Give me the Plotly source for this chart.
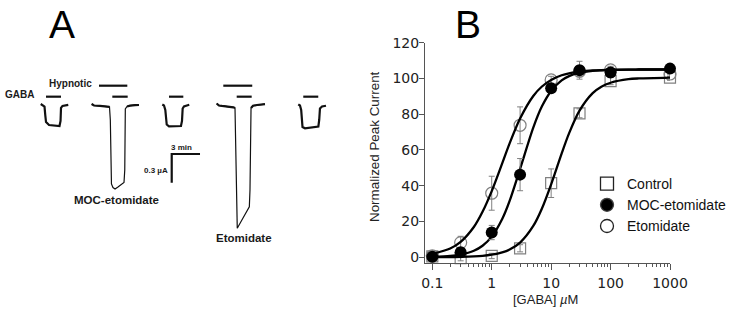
import plotly.graph_objects as go

W, H = 729, 315

# ---------------- Panel B data ----------------
conc = [0.1, 0.3, 1, 3, 10, 30, 100, 1000]
control_mean = [0.5, -0.5, 0.7, 5.0, 41.4, 80.5, 98.5, 100.5]
control_err = [1.5, 1.5, 1.5, 2.0, 8.0, 2.5, 2.0, 1.5]
moc_mean = [0.3, 2.8, 13.8, 46.2, 94.5, 104.6, 103.3, 105.5]
moc_err = [1.5, 1.5, 4.0, 9.0, 2.0, 5.0, 2.5, 1.5]
eto_mean = [0.8, 8.2, 35.8, 73.8, 99.2, 104.0, 104.8, 102.5]
eto_err = [1.5, 3.5, 9.5, 10.3, 2.0, 3.0, 2.0, 1.5]

# fitted curves
fit_conc = [0.1, 0.2, 0.3, 0.5, 0.7, 1, 1.5, 2, 3, 5, 7, 10, 15, 20, 30, 50, 70, 100, 200, 300, 1000]
control_fit = [0.03, 0.09, 0.18, 0.42, 0.74, 1.4, 2.7, 4.3, 8.2, 17.5, 27.3, 40.8, 58.0, 69.3, 82.0,
               91.8, 95.4, 97.6, 99.6, 100.0, 100.5]
moc_fit = [0.2, 0.7, 1.5, 3.6, 6.4, 11.5, 21.4, 31.5, 49.4, 72.5, 84.4, 93.0, 98.9, 101.3, 103.2,
           104.3, 104.6, 104.8, 104.95, 105.0, 105.0]
eto_fit = [1.8, 4.9, 8.6, 16.9, 25.4, 37.0, 52.5, 63.7, 77.6, 90.2, 95.5, 99.2, 101.8, 102.9, 103.8,
           104.5, 104.7, 104.8, 104.9, 105.0, 105.0]

x_ticks = [0.1, 1, 10, 100, 1000]
x_ticktext = ["0.1", "1", "10", "100", "1000"]
y_ticks = [0, 20, 40, 60, 80, 100, 120]
minor_ticks = [k * 10.0 ** e for e in range(-1, 3) for k in range(2, 10)]

# ---------------- Panel A data (time in min, current in µA) ----------------
sweep1_t = [4.32, 4.51, 4.72, 4.80, 4.88, 5.20, 5.83, 6.31, 6.42, 6.47, 6.63, 6.89, 7.24]
sweep1_i = [0.010, -0.005, -0.016, -0.105, -0.178, -0.209, -0.217, -0.220, -0.167, -0.031, -0.010, -0.003, 0.002]

sweep2_t = [9.72, 9.97, 10.60, 11.24, 11.61, 11.70, 11.75, 11.82, 11.98, 12.20, 12.51, 12.83, 13.15,
            13.23, 13.29, 13.47, 13.79, 14.32, 14.74]
sweep2_i = [0.010, -0.005, -0.010, -0.013, -0.019, -0.157, -0.575, -0.826, -0.863, -0.879, -0.858, -0.837,
            -0.811, -0.680, -0.042, -0.016, -0.007, -0.002, 0.0]

sweep3_t = [17.21, 17.39, 17.53, 17.60, 17.68, 17.92, 18.56, 19.19, 19.30, 19.37, 19.51, 19.78, 20.07]
sweep3_i = [0.005, -0.005, -0.052, -0.157, -0.204, -0.223, -0.225, -0.220, -0.167, -0.037, -0.014, -0.005, 0.002]

sweep4_t = [22.98, 23.22, 23.54, 24.18, 24.74, 24.92, 24.98, 25.05, 25.16, 25.77, 26.44, 26.51, 26.56,
            26.62, 26.83, 27.25, 28.10]
sweep4_i = [0.016, -0.005, -0.010, -0.016, -0.024, -0.031, -0.366, -0.994, -1.290, -1.182, -1.064, -0.889,
            -0.262, -0.031, -0.008, 0.0, 0.010]

sweep5_t = [31.63, 31.81, 31.94, 32.00, 32.08, 32.34, 33.09, 33.76, 33.85, 33.93, 34.15, 34.57]
sweep5_i = [0.007, -0.005, -0.052, -0.178, -0.230, -0.244, -0.235, -0.225, -0.157, -0.037, -0.016, -0.008]

gaba_bars = [(4.88, 6.47), (11.91, 13.54), (17.92, 19.44), (25.10, 26.69), (32.16, 33.75)]
gaba_level = 0.087
hyp_bars = [(10.50, 13.50), (23.68, 26.75)]
hyp_level = 0.202

scale_t0, scale_i0 = 18.21, -0.5125
scale_dt, scale_di = 3.0, 0.3

px_per_min = 9.43
px_per_uA = 95.6
baseline_px = 105.0

fig = go.Figure()

ink = "#111111"
# ---- Panel A traces ----
for t, i in [(sweep1_t, sweep1_i), (sweep3_t, sweep3_i), (sweep5_t, sweep5_i)]:
    fig.add_trace(go.Scatter(x=t, y=i, mode="lines", line=dict(color=ink, width=2.2),
                             xaxis="x2", yaxis="y2", showlegend=False, hoverinfo="skip"))
for t, i, npre, npost in [(sweep2_t, sweep2_i, 5, 4), (sweep4_t, sweep4_i, 6, 4)]:
    fig.add_trace(go.Scatter(x=t, y=i, mode="lines", line=dict(color=ink, width=1.2),
                             xaxis="x2", yaxis="y2", showlegend=False, hoverinfo="skip"))
    fig.add_trace(go.Scatter(x=t[:npre], y=i[:npre], mode="lines", line=dict(color=ink, width=2.2),
                             xaxis="x2", yaxis="y2", showlegend=False, hoverinfo="skip"))
    fig.add_trace(go.Scatter(x=t[-npost:], y=i[-npost:], mode="lines", line=dict(color=ink, width=2.2),
                             xaxis="x2", yaxis="y2", showlegend=False, hoverinfo="skip"))

def bar_xy(bars, level):
    xs, ys = [], []
    for a, b in bars:
        xs += [a, b, None]
        ys += [level, level, None]
    return xs, ys

for bars, level in [(gaba_bars, gaba_level), (hyp_bars, hyp_level)]:
    bx, by = bar_xy(bars, level)
    fig.add_trace(go.Scatter(x=bx, y=by, mode="lines", line=dict(color=ink, width=2.2),
                             xaxis="x2", yaxis="y2", showlegend=False, hoverinfo="skip"))

fig.add_trace(go.Scatter(
    x=[scale_t0 + scale_dt, scale_t0, scale_t0],
    y=[scale_i0, scale_i0, scale_i0 - scale_di],
    mode="lines", line=dict(color=ink, width=2.2),
    xaxis="x2", yaxis="y2", showlegend=False, hoverinfo="skip"))

# ---- Panel B traces ----
grey = "#808080"
fig.add_trace(go.Scatter(x=conc, y=control_mean, mode="markers",
                         marker=dict(symbol="square-open", size=11, color=grey, line=dict(width=1.2)),
                         error_y=dict(type="data", array=control_err, color=grey, thickness=1, width=3),
                         showlegend=False, hoverinfo="skip", cliponaxis=False))
fig.add_trace(go.Scatter(x=conc, y=eto_mean, mode="markers",
                         marker=dict(symbol="circle-open", size=12, color=grey, line=dict(width=1.2)),
                         error_y=dict(type="data", array=eto_err, color=grey, thickness=1, width=3),
                         showlegend=False, hoverinfo="skip", cliponaxis=False))
for yfit in [control_fit, moc_fit, eto_fit]:
    fig.add_trace(go.Scatter(x=fit_conc, y=yfit, mode="lines",
                             line=dict(color="black", width=2.3, shape="spline", smoothing=0.8),
                             showlegend=False, hoverinfo="skip"))
fig.add_trace(go.Scatter(x=conc, y=moc_mean, mode="markers",
                         marker=dict(symbol="circle", size=12, color="black"),
                         error_y=dict(type="data", array=moc_err, color=grey, thickness=1, width=3),
                         showlegend=False, hoverinfo="skip", cliponaxis=False))

# legend-only entries
for name, sym, col in [("Control", "square-open", "#222"), ("MOC-etomidate", "circle", "black"),
                       ("Etomidate", "circle-open", "#222")]:
    fig.add_trace(go.Scatter(x=[None], y=[None], mode="markers", name=name,
                             marker=dict(symbol=sym, size=13, color=col, line=dict(width=1.3))))

ann_font = dict(family="Liberation Sans, Arial", color="#1a1a1a")
C = dict(xanchor="center", yanchor="middle", showarrow=False)
annotations = [
    dict(text="A", x=61.7 / W, y=1 - 1.5 / H, xref="paper", yref="paper", xanchor="center",
         yanchor="top", showarrow=False,
         font=dict(family="Liberation Sans, Arial", size=39, color="black")),
    dict(text="B", x=467.5 / W, y=1 - 1.5 / H, xref="paper", yref="paper", xanchor="center",
         yanchor="top", showarrow=False,
         font=dict(family="Liberation Sans, Arial", size=39, color="black")),
    dict(text="<b>GABA</b>", x=3.82, y=gaba_level + 0.02, xref="x2", yref="y2", xanchor="right",
         yanchor="middle", showarrow=False, font=dict(size=10, **ann_font)),
    dict(text="<b>Hypnotic</b>", x=4.95, y=hyp_level + 0.02, xref="x2", yref="y2", xanchor="left",
         yanchor="middle", showarrow=False, font=dict(size=10, **ann_font)),
    dict(text="<b>MOC-etomidate</b>", x=12.37, y=-0.99, xref="x2", yref="y2", **C,
         font=dict(size=11.5, **ann_font)),
    dict(text="<b>Etomidate</b>", x=25.9, y=-1.39, xref="x2", yref="y2", **C,
         font=dict(size=11.5, **ann_font)),
    dict(text="<b>3 min</b>", x=scale_t0 + 1.06, y=scale_i0 + 0.07, xref="x2", yref="y2", **C,
         font=dict(size=8, **ann_font)),
    dict(text="<b>0.3 µA</b>", x=scale_t0 - 1.72, y=scale_i0 - 0.17, xref="x2", yref="y2", **C,
         font=dict(size=8, **ann_font)),
    dict(text="[GABA] <i>µ</i>M", x=545 / W, y=1 - 299 / H, xref="paper", yref="paper", **C,
         font=dict(family="Liberation Sans, Arial", size=13, color="#222")),
    dict(text="Normalized Peak Current", x=374 / W, y=1 - 147 / H, xref="paper", yref="paper",
         **C, textangle=-90,
         font=dict(family="Liberation Sans, Arial", size=13.4, color="#222")),
]

axis_col = "#555555"
fig.update_layout(
    width=W, height=H,
    margin=dict(l=0, r=0, t=0, b=0, autoexpand=False),
    paper_bgcolor="white", plot_bgcolor="white",
    annotations=annotations,
    xaxis=dict(type="log", range=[-1.123, 3.0], domain=[425 / W, 670 / W], anchor="y",
               showline=True, linecolor=axis_col, linewidth=1, showgrid=False, zeroline=False,
               ticks="outside", ticklen=6, tickcolor=axis_col, tickvals=x_ticks, ticktext=x_ticktext,
               ticklabelstandoff=1, automargin=False,
               tickfont=dict(family="DejaVu Sans", size=14, color="#222"),
               minor=dict(tickvals=minor_ticks, ticks="outside", ticklen=3, tickcolor=axis_col,
                          showgrid=False)),
    yaxis=dict(range=[-3.4, 120], domain=[1 - 263.3 / H, 1 - 42.7 / H], anchor="x",
               showline=True, linecolor=axis_col, linewidth=1, showgrid=False, zeroline=False,
               ticks="outside", ticklen=5, tickcolor=axis_col, tickvals=y_ticks,
               ticklabelstandoff=-3, automargin=False,
               tickfont=dict(family="DejaVu Sans", size=14, color="#222")),
    xaxis2=dict(domain=[0, 360 / W], range=[0, 360 / px_per_min], visible=False, anchor="y2"),
    yaxis2=dict(domain=[0, 1], range=[(baseline_px - H) / px_per_uA, baseline_px / px_per_uA],
                visible=False, anchor="x2"),
    legend=dict(x=587 / W, y=1 - 168 / H, xanchor="left", yanchor="top",
                font=dict(family="Liberation Sans, Arial", size=14, color="#111"),
                bgcolor="rgba(0,0,0,0)", borderwidth=0, tracegroupgap=0),
)

fig.write_html("out.html", config={"displayModeBar": False},
               post_script="document.body.style.margin='0px';")
